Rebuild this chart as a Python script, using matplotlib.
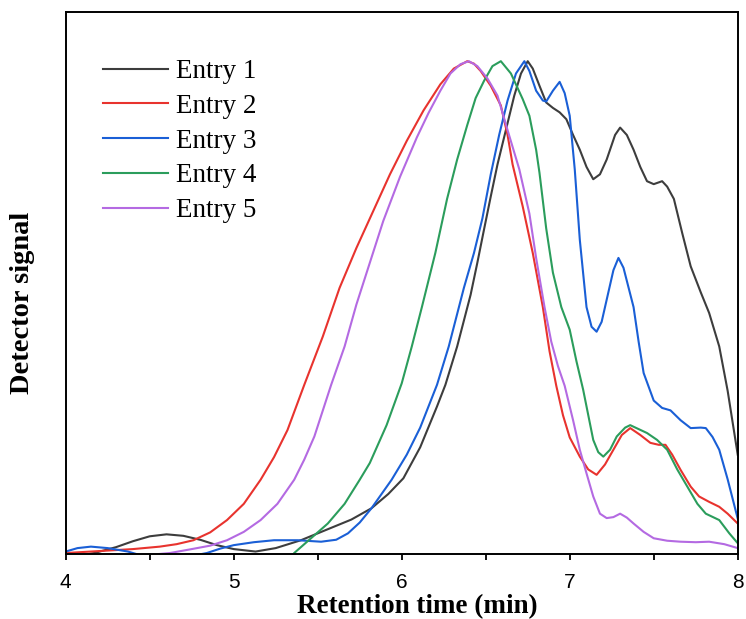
import matplotlib
matplotlib.use("Agg")
import matplotlib.pyplot as plt
from matplotlib.ticker import MultipleLocator

# GPC traces, normalised detector signal vs retention time (min)
t1 = [4.00, 4.17, 4.30, 4.40, 4.50, 4.60, 4.70, 4.80, 4.90, 5.00, 5.13, 5.25, 5.40,
      5.50, 5.60, 5.70, 5.82, 5.92, 6.01, 6.11, 6.21, 6.26, 6.33, 6.41, 6.45, 6.49,
      6.53, 6.57, 6.62, 6.67, 6.71, 6.75, 6.78, 6.82, 6.86, 6.90, 6.94, 6.98, 7.02,
      7.06, 7.10, 7.14, 7.18, 7.22, 7.27, 7.30, 7.34, 7.38, 7.42, 7.46, 7.50, 7.55,
      7.58, 7.62, 7.67, 7.72, 7.78, 7.83, 7.89, 7.94, 8.00]
s1 = [-0.01, 0.0, 0.012, 0.024, 0.034, 0.038, 0.035, 0.027, 0.016, 0.008, 0.003, 0.010,
      0.026, 0.040, 0.054, 0.068, 0.091, 0.12, 0.152, 0.215, 0.298, 0.342, 0.42, 0.525,
      0.59, 0.658, 0.725, 0.79, 0.86, 0.93, 0.975, 1.0, 0.985, 0.95, 0.916, 0.905,
      0.896, 0.882, 0.85, 0.82, 0.785, 0.76, 0.77, 0.80, 0.85, 0.865, 0.85, 0.82,
      0.785, 0.756, 0.75, 0.756, 0.745, 0.72, 0.65, 0.583, 0.53, 0.488, 0.42, 0.33, 0.20]

t2 = [4.00, 4.20, 4.40, 4.56, 4.66, 4.76, 4.86, 4.96, 5.06, 5.16, 5.24, 5.32, 5.42,
      5.53, 5.63, 5.73, 5.83, 5.93, 6.03, 6.13, 6.23, 6.31, 6.39, 6.43, 6.47, 6.53,
      6.59, 6.63, 6.66, 6.72, 6.78, 6.84, 6.88, 6.92, 6.96, 7.00, 7.06, 7.11, 7.16,
      7.21, 7.26, 7.31, 7.36, 7.42, 7.48, 7.53, 7.57, 7.61, 7.66, 7.72, 7.77, 7.83,
      7.89, 7.94, 8.00]
s2 = [0.0, 0.004, 0.008, 0.013, 0.018, 0.026, 0.042, 0.067, 0.10, 0.149, 0.195, 0.25,
      0.342, 0.44, 0.539, 0.62, 0.695, 0.77, 0.838, 0.90, 0.953, 0.985, 1.0, 0.995,
      0.98, 0.95, 0.91, 0.85, 0.79, 0.705, 0.61, 0.50, 0.41, 0.34, 0.28, 0.235,
      0.196, 0.17, 0.159, 0.18, 0.21, 0.24, 0.254, 0.24, 0.224, 0.22, 0.22, 0.20,
      0.169, 0.135, 0.115, 0.104, 0.094, 0.08, 0.06]

t3 = [4.00, 4.07, 4.15, 4.25, 4.37, 4.45, 4.60, 4.75, 4.84, 4.92, 5.00, 5.12, 5.24,
      5.38, 5.52, 5.61, 5.68, 5.75, 5.82, 5.88, 5.94, 6.03, 6.11, 6.21, 6.28, 6.37,
      6.43, 6.48, 6.53, 6.58, 6.63, 6.68, 6.73, 6.76, 6.80, 6.84, 6.86, 6.90, 6.94,
      6.97, 7.00, 7.03, 7.06, 7.10, 7.13, 7.16, 7.19, 7.22, 7.26, 7.29, 7.32, 7.35,
      7.38, 7.41, 7.44, 7.50, 7.55, 7.60, 7.66, 7.72, 7.78, 7.81, 7.85, 7.89, 7.94, 8.00]
s3 = [0.003, 0.010, 0.013, 0.010, 0.003, -0.005, -0.01, -0.006, 0.0, 0.009, 0.016,
      0.022, 0.026, 0.026, 0.023, 0.027, 0.040, 0.062, 0.091, 0.12, 0.149, 0.20,
      0.255, 0.342, 0.42, 0.539, 0.61, 0.68, 0.77, 0.85, 0.92, 0.975, 1.0, 0.98,
      0.94, 0.92, 0.918, 0.94, 0.958, 0.935, 0.889, 0.78, 0.637, 0.50, 0.46, 0.45,
      0.47, 0.515, 0.575, 0.60, 0.58, 0.54, 0.50, 0.43, 0.366, 0.31, 0.295, 0.29,
      0.27, 0.254, 0.255, 0.254, 0.236, 0.21, 0.15, 0.07]

t4 = [5.30, 5.36, 5.46, 5.56, 5.66, 5.75, 5.81, 5.91, 6.00, 6.06, 6.12, 6.20, 6.27,
      6.33, 6.39, 6.44, 6.49, 6.54, 6.59, 6.65, 6.72, 6.76, 6.80, 6.82, 6.86, 6.90,
      6.95, 7.00, 7.04, 7.08, 7.14, 7.17, 7.20, 7.24, 7.28, 7.33, 7.36, 7.41, 7.46,
      7.52, 7.58, 7.64, 7.70, 7.76, 7.81, 7.89, 7.95, 8.00]
s4 = [-0.03, 0.0, 0.03, 0.06, 0.10, 0.149, 0.183, 0.26, 0.345, 0.42, 0.50, 0.61, 0.72,
      0.80, 0.87, 0.925, 0.96, 0.99, 1.0, 0.975, 0.923, 0.889, 0.82, 0.773, 0.66,
      0.57, 0.50, 0.454, 0.39, 0.332, 0.23, 0.205, 0.196, 0.21, 0.237, 0.255, 0.26,
      0.252, 0.244, 0.23, 0.21, 0.17, 0.135, 0.10, 0.08, 0.067, 0.04, 0.02]

t5 = [4.00, 4.30, 4.62, 4.75, 4.86, 4.96, 5.06, 5.16, 5.26, 5.36, 5.42, 5.48, 5.58,
      5.66, 5.73, 5.81, 5.89, 5.99, 6.09, 6.16, 6.23, 6.29, 6.35, 6.40, 6.45, 6.51,
      6.57, 6.63, 6.70, 6.76, 6.80, 6.85, 6.89, 6.93, 6.97, 7.02, 7.06, 7.10, 7.14,
      7.18, 7.22, 7.26, 7.30, 7.34, 7.38, 7.44, 7.50, 7.58, 7.66, 7.75, 7.83, 7.92, 8.00]
s5 = [-0.01, -0.01, 0.0, 0.008, 0.015, 0.026, 0.043, 0.067, 0.10, 0.149, 0.19, 0.237,
      0.342, 0.42, 0.505, 0.59, 0.675, 0.765, 0.845, 0.895, 0.94, 0.975, 0.994, 1.0,
      0.99, 0.965, 0.93, 0.86, 0.78, 0.69, 0.60, 0.50, 0.43, 0.38, 0.34, 0.27, 0.21,
      0.162, 0.115, 0.08, 0.071, 0.073, 0.08, 0.072, 0.06, 0.043, 0.03, 0.025, 0.023,
      0.022, 0.023, 0.018, 0.01]

labels = ["Entry 1", "Entry 2", "Entry 3", "Entry 4", "Entry 5"]
colors = ["#3d3d3d", "#e8332e", "#1a5fd6", "#2b9d5c", "#b46ae2"]

serif = ["Liberation Serif", "DejaVu Serif"]

fig = plt.figure(figsize=(7.46, 6.19), dpi=100)
ax = fig.add_axes([0.0881, 0.105, 0.9008, 0.8756])

for t, s, lab, c in zip([t1, t2, t3, t4, t5], [s1, s2, s3, s4, s5], labels, colors):
    ax.plot(t, s, color=c, lw=1.5, label=lab)

ax.set_xlim(4, 8)
ax.set_ylim(-0.002, 1.1)
ax.xaxis.set_major_locator(MultipleLocator(1))
ax.xaxis.set_minor_locator(MultipleLocator(0.5))
ax.set_yticks([])
for side in ax.spines.values():
    side.set_linewidth(1.4)
ax.tick_params(axis="x", which="both", direction="out", length=4, width=1.3,
               labelsize=15, pad=10)
for lbl in ax.get_xticklabels():
    lbl.set_family(["Liberation Sans", "DejaVu Sans"])

ax.set_xlabel("Retention time (min)", family=serif, fontsize=19.5, fontweight="bold")
ax.xaxis.set_label_coords(0.5235, -0.074)
ax.set_ylabel("Detector signal", family=serif, fontsize=20.5, fontweight="bold")
ax.yaxis.set_label_coords(-0.046, 0.463)

ax.legend(loc="upper left", bbox_to_anchor=(0.0555, 0.913), frameon=False,
          prop={"family": serif, "size": 19.5}, handlelength=2.4,
          handletextpad=0.3, labelspacing=0.36, borderpad=0, borderaxespad=0)

fig.savefig("out.png", dpi=100)
